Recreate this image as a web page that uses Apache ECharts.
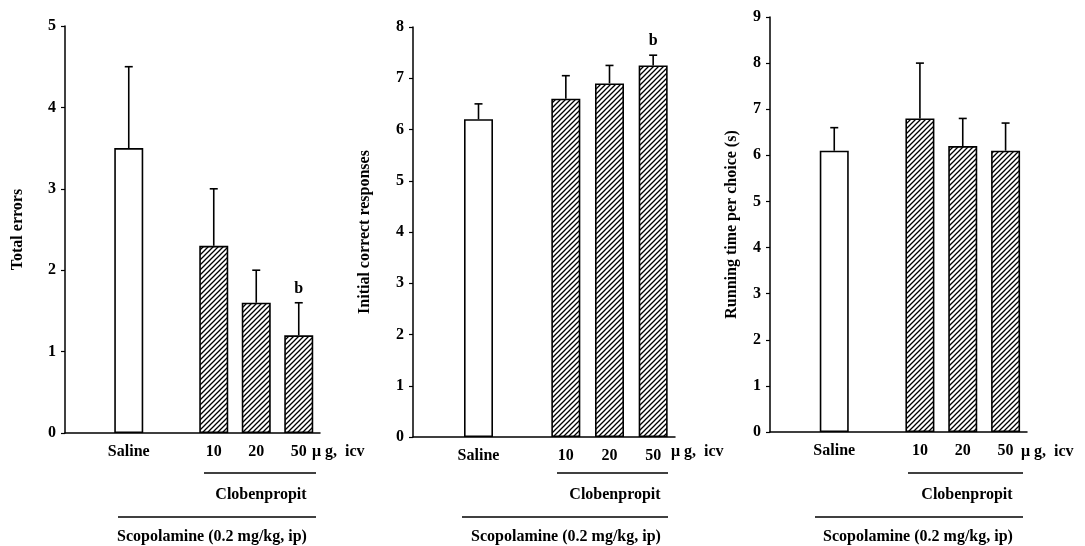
<!DOCTYPE html>
<html><head><meta charset="utf-8">
<script src="https://cdn.jsdelivr.net/npm/echarts@6/dist/echarts.min.js"></script>
<style>html,body{margin:0;padding:0;background:#fff}#c{width:1085px;height:546px}</style>
</head><body><div id="c"></div>
<script>
// ---- data ----
const xCategories = ['', 'Saline', ' ', '10', '20', '50'];

const totalErrors    = [null, 3.5, null, 2.3, 1.6, 1.2];
const totalErrorsSEM = [null, 1.0, null, 0.7, 0.4, 0.4];
const totalErrorsSig = ['', '', '', '', '', 'b'];

const initialCorrect    = [null, 6.2, null, 6.6, 6.9, 7.25];
const initialCorrectSEM = [null, 0.3, null, 0.45, 0.35, 0.2];
const initialCorrectSig = ['', '', '', '', '', 'b'];

const runningTime    = [null, 6.1, null, 6.8, 6.2, 6.1];
const runningTimeSEM = [null, 0.5, null, 1.2, 0.6, 0.6];
const runningTimeSig = ['', '', '', '', '', ''];

const yTitles = ['Total errors', 'Initial correct responses', 'Running time per choice (s)'];
const yMax = [5, 8, 9];
const unitLabel = 'μ g,  icv';
const groupLabel = 'Clobenpropit';
const pretreatLabel = 'Scopolamine (0.2 mg/kg, ip)';

// ---- styling ----
const FONT = '"Liberation Serif", "Times New Roman", serif';
const hatch = (function () {
  const s = 5, c = document.createElement('canvas');
  c.width = c.height = s;
  const g = c.getContext('2d');
  g.fillStyle = '#fff'; g.fillRect(0, 0, s, s);
  g.strokeStyle = '#000'; g.lineWidth = 1.3;
  g.beginPath();
  g.moveTo(0, s); g.lineTo(s, 0);
  g.moveTo(-1, 1); g.lineTo(1, -1);
  g.moveTo(s - 1, s + 1); g.lineTo(s + 1, s - 1);
  g.stroke();
  return c;
})();

const grids = [
  { left: 65,  top: 26, width: 255, height: 407 },
  { left: 413, top: 27, width: 262, height: 410 },
  { left: 770, top: 17, width: 257, height: 415 }
];
const nameGaps = [39, 40, 30];
const panels = [
  [totalErrors, totalErrorsSEM, totalErrorsSig],
  [initialCorrect, initialCorrectSEM, initialCorrectSig],
  [runningTime, runningTimeSEM, runningTimeSig]
];

const axisLine = { show: true, lineStyle: { color: '#000', width: 1.5 } };
const tickLabelStyle = { color: '#000', fontFamily: FONT, fontWeight: 'bold', fontSize: 16 };
const catLabelStyle = { color: '#000', fontFamily: FONT, fontWeight: 'bold', fontSize: 16 };

const xAxis = [], yAxis = [], series = [];
panels.forEach(function (p, k) {
  xAxis.push({
    type: 'category', gridIndex: k, data: xCategories,
    axisLine: axisLine, axisTick: { show: false },
    axisLabel: Object.assign({ margin: 11, interval: 0 }, catLabelStyle)
  });
  yAxis.push({
    type: 'value', gridIndex: k, min: 0, max: yMax[k], interval: 1,
    axisLine: axisLine, axisTick: { show: true, length: 4, lineStyle: { color: '#000', width: 1.2 } },
    splitLine: { show: false },
    axisLabel: Object.assign({ margin: 9 }, tickLabelStyle),
    name: yTitles[k], nameLocation: 'middle', nameRotate: 90, nameGap: nameGaps[k],
    nameTextStyle: { color: '#000', fontFamily: FONT, fontWeight: 'bold', fontSize: 16 }
  });
  const means = p[0], sems = p[1], sig = p[2];
  series.push({
    type: 'bar', xAxisIndex: k, yAxisIndex: k, barWidth: 29, silent: true,
    data: means.map(function (v, i) {
      if (v == null) return '-';
      return { value: v, itemStyle: {
        color: i === 1 ? '#fff' : { image: hatch, repeat: 'repeat' },
        borderColor: '#000', borderWidth: 1.6 } };
    })
  });
  series.push({
    type: 'custom', xAxisIndex: k, yAxisIndex: k, silent: true, z: 5,
    data: means.map(function (v, i) { return v == null ? [i, NaN, NaN] : [i, v, sems[i]]; }),
    encode: { x: 0, y: 1 },
    renderItem: function (params, api) {
      const v = api.value(1), e = api.value(2);
      if (isNaN(v)) return null;
      const x = api.value(0);
      const p0 = api.coord([x, v]), p1 = api.coord([x, v + e]);
      const st = { stroke: '#000', lineWidth: 1.6 };
      const ch = [
        { type: 'line', shape: { x1: p0[0], y1: p0[1], x2: p1[0], y2: p1[1] }, style: st },
        { type: 'line', shape: { x1: p1[0] - 4, y1: p1[1], x2: p1[0] + 4, y2: p1[1] }, style: st }
      ];
      const s = sig[params.dataIndex];
      if (s) ch.push({ type: 'text', style: { text: s, x: p1[0], y: p1[1] - 6,
        textAlign: 'center', textVerticalAlign: 'bottom',
        font: 'bold 16px ' + FONT, fill: '#000' } });
      return { type: 'group', children: ch };
    }
  });
});

// bracket annotations below each panel
const annot = [
  { unitX: 312, clob: [204, 316], clobText: 261, scop: [118, 316], scopText: 212 },
  { unitX: 671, clob: [557, 668], clobText: 615, scop: [462, 668], scopText: 566 },
  { unitX: 1021, clob: [908, 1023], clobText: 967, scop: [815, 1023], scopText: 918 }
];
const graphic = [];
annot.forEach(function (a) {
  const ts = { font: 'bold 16px ' + FONT, fill: '#000', textVerticalAlign: 'middle' };
  graphic.push({ type: 'text', x: a.unitX, y: 452, style: Object.assign({ text: unitLabel }, ts) });
  graphic.push({ type: 'line', shape: { x1: a.clob[0], y1: 473, x2: a.clob[1], y2: 473 }, style: { stroke: '#000', lineWidth: 1.3 } });
  graphic.push({ type: 'text', x: a.clobText, y: 495, style: Object.assign({ text: groupLabel, textAlign: 'center' }, ts) });
  graphic.push({ type: 'line', shape: { x1: a.scop[0], y1: 517, x2: a.scop[1], y2: 517 }, style: { stroke: '#000', lineWidth: 1.3 } });
  graphic.push({ type: 'text', x: a.scopText, y: 537, style: Object.assign({ text: pretreatLabel, textAlign: 'center' }, ts) });
});

const chart = echarts.init(document.getElementById('c'), null, { renderer: 'canvas' });
chart.setOption({
  animation: false,
  backgroundColor: '#fff',
  grid: grids,
  xAxis: xAxis,
  yAxis: yAxis,
  series: series,
  graphic: graphic
});
</script>
</body></html>
